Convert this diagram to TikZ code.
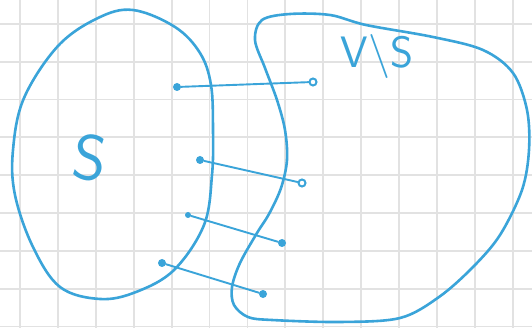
\documentclass[tikz,border=0pt]{standalone}
\usepackage{fontspec}
\begin{document}
\begin{tikzpicture}[x=1pt,y=-1pt,
  pen/.style={draw=penblue,line width=2.6pt,line cap=round,line join=round},
  fdot/.style={circle,fill=penblue,inner sep=0pt,minimum size=8pt},
  odot/.style={circle,draw=penblue,line width=2pt,fill=white,inner sep=0pt,minimum size=7pt},
  link/.style={draw=penblue,line width=1.9pt,line cap=round},
  hand/.style={text=penblue,font=\sffamily,inner sep=0pt}]
\definecolor{penblue}{RGB}{58,164,217}
\definecolor{gridgray}{RGB}{226,226,226}
\useasboundingbox (0,0) rectangle (532,328);
\fill[white] (0,0) rectangle (532,328);
% grid paper
\foreach \i in {0,...,13} {\draw[gridgray,line width=1.8pt] (20+37.9*\i,0) -- (20+37.9*\i,328);}
\foreach \j in {0,...,8} {\draw[gridgray,line width=1.8pt] (0,24+37.8*\j) -- (532,24+37.8*\j);}
% set S
\draw[pen] plot[smooth cycle,tension=0.6] coordinates {(133,10) (175,27) (200,53) (211,85) (213,130) (212,175) (204,225) (174,270) (136,292) (100,299) (60,287) (33,247) (15,195) (13,150) (24,98) (58,46) (98,18)};
% set V\S
\draw[pen] plot[smooth cycle,tension=0.55] coordinates {(262,20) (290,14) (330,15) (366,25) (433,37) (483,50) (513,73) (527,110) (529,150) (522,190) (500,235) (473,267) (439,297) (400,318) (340,322) (272,320) (248,317) (234,305) (232,287) (240,263) (257,233) (269,214) (281,188) (287,160) (285,130) (277,100) (265,68) (255,40)};
% labels
\node[hand,font=\sffamily\fontsize{64}{64}\selectfont,rotate=-8] (lS) at (90,158) {S};
\node[hand,font=\sffamily\fontsize{44}{44}\selectfont] (lVS) at (377,57) {V\textbackslash S};
% points
\node[fdot] (a1) at (177,87) {};
\node[fdot] (a2) at (200,160) {};
\node[fdot,minimum size=6pt] (a3) at (188,215) {};
\node[fdot] (a4) at (162,263) {};
\node[odot] (b1) at (313,82) {};
\node[odot] (b2) at (302,183) {};
\node[fdot] (b3) at (282,243) {};
\node[fdot] (b4) at (263,294) {};
% matching
\draw[link] (a1) -- (b1);
\draw[link] (a2) -- (b2);
\draw[link] (a3) -- (b3);
\draw[link] (a4) -- (b4);
\end{tikzpicture}
\end{document}
